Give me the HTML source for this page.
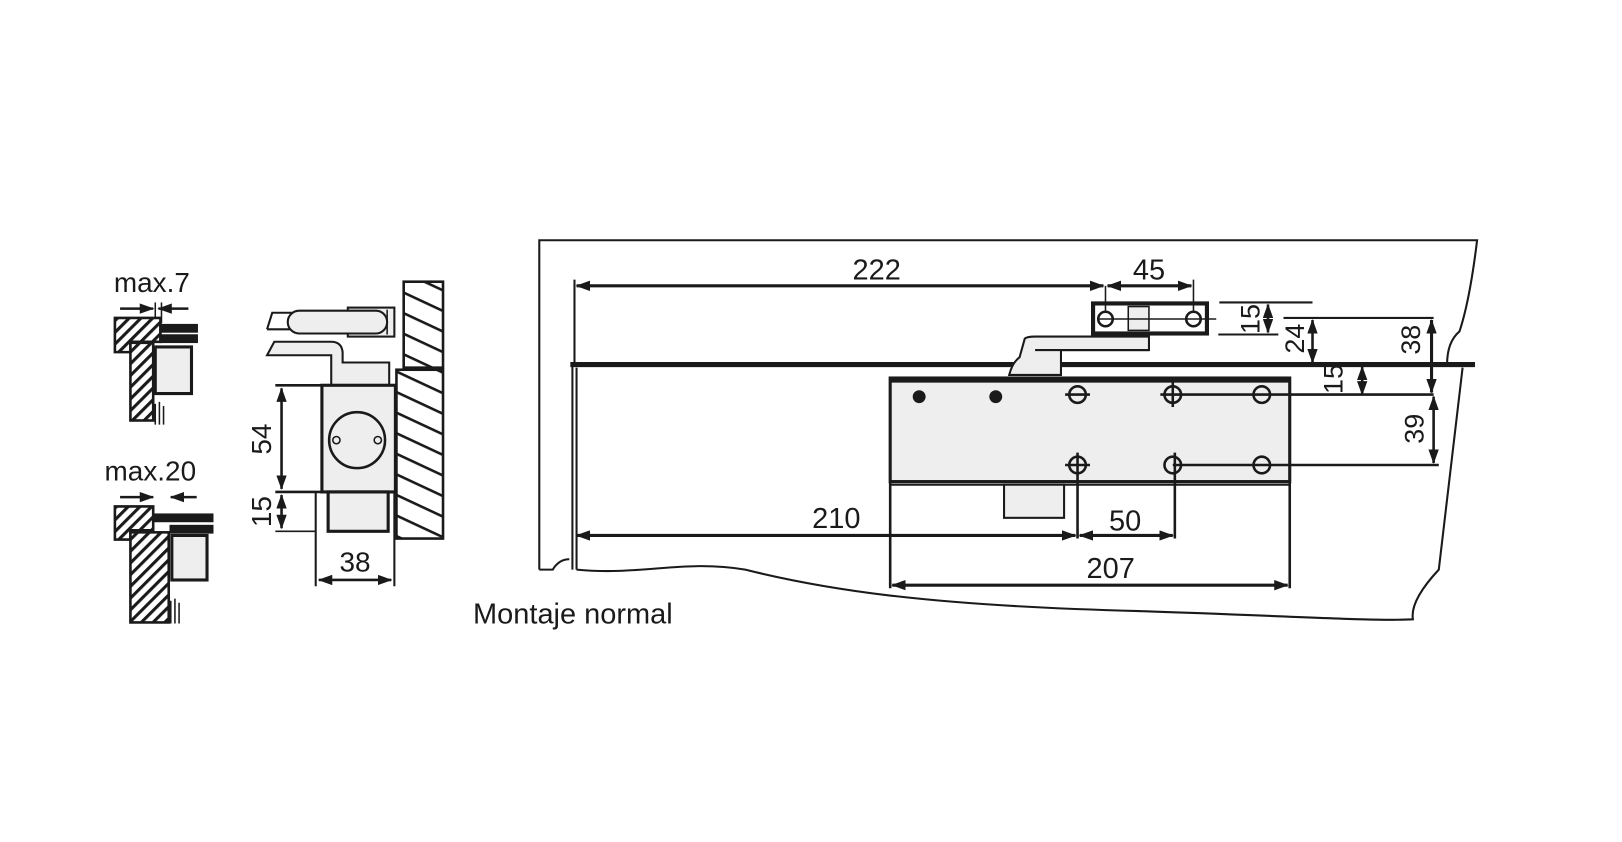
<!DOCTYPE html>
<html><head><meta charset="utf-8"><style>
html,body{margin:0;padding:0;background:#fff;}
svg{display:block;}
text{font-family:"Liberation Sans",sans-serif;fill:#1a1a1a;}
</style></head><body>
<svg width="1622" height="842" viewBox="0 0 1567 813" preserveAspectRatio="none" xmlns="http://www.w3.org/2000/svg">
<defs>
<marker id="a" markerWidth="14" markerHeight="10" refX="13" refY="5" orient="auto-start-reverse" markerUnits="userSpaceOnUse"><path d="M0,0 L14,5 L0,10 Z" fill="#1a1a1a"/></marker>
<pattern id="h" width="8" height="8" patternUnits="userSpaceOnUse" patternTransform="rotate(45)"><rect width="8" height="8" fill="#fff"/><rect width="3" height="8" fill="#1a1a1a"/></pattern>
<pattern id="w" width="18" height="18" patternUnits="userSpaceOnUse" patternTransform="rotate(25)"><rect width="18" height="18" fill="#fff"/><rect width="18" height="2.5" fill="#1a1a1a"/></pattern>
</defs>
<g stroke="#1a1a1a" fill="none" stroke-width="2.5">
<!-- small detail top -->
<text x="110" y="282" font-size="27" stroke="none">max.7</text>
<line x1="116" y1="298" x2="148" y2="298" marker-end="url(#a)"/>
<line x1="182" y1="298" x2="153" y2="298" marker-end="url(#a)"/>
<line x1="150" y1="292" x2="150" y2="312" stroke-width="1.5"/><line x1="156" y1="292" x2="156" y2="312" stroke-width="1.5"/>
<path d="M111,307 H155 V330 H126 V340 H111 Z" fill="url(#h)"/>
<rect x="126" y="331" width="22" height="75" fill="url(#h)"/>
<rect x="150" y="335" width="35" height="45" fill="#eee" stroke-width="3"/>
<rect x="155" y="314" width="35" height="6" fill="#1a1a1a"/><rect x="155" y="324" width="35" height="6" fill="#1a1a1a"/>
<path d="M150,390 V410 M154,388 V410 M158,392 V410" stroke-width="1.5"/>
<!-- small detail bottom -->
<text x="101" y="464" font-size="27" stroke="none">max.20</text>
<line x1="116" y1="480" x2="148" y2="480" marker-end="url(#a)"/>
<line x1="190" y1="480" x2="165" y2="480" marker-end="url(#a)"/>
<path d="M111,489 H148 V512 H126 V521 H111 Z" fill="url(#h)"/>
<rect x="126" y="514" width="37" height="87" fill="url(#h)"/>
<rect x="166" y="517" width="34" height="43" fill="#eee" stroke-width="3"/>
<rect x="150" y="497" width="55" height="6" fill="#1a1a1a"/><rect x="165" y="508" width="40" height="6" fill="#1a1a1a"/>
<path d="M165,580 V602 M169,578 V602 M173,582 V602" stroke-width="1.5"/>
<!-- middle detail -->
<rect x="390" y="272" width="38" height="83" fill="url(#w)"/>
<rect x="383" y="357" width="45" height="163" fill="url(#w)"/>
<path d="M258,318 L263,302 H285" stroke-width="2"/>
<path d="M258,318 H285" stroke-width="2"/>
<rect x="336" y="297" width="45" height="28" fill="#eee" stroke-width="2"/>
<line x1="374" y1="299" x2="374" y2="323" stroke-width="1.5"/>
<rect x="278" y="300" width="96" height="22" rx="11" fill="#eee" stroke-width="2"/>
<path d="M258,343 L265,330 L320,330 Q330,330 331,340 V350 H376 V372 H320 V343 Z" fill="#eee" stroke-width="2"/>
<rect x="311" y="372" width="71" height="103" fill="#eee" stroke-width="3"/>
<circle cx="345" cy="425" r="27" stroke-width="2.5"/>
<circle cx="325" cy="425" r="3.5" stroke-width="1.5"/><circle cx="365" cy="425" r="3.5" stroke-width="1.5"/>
<rect x="317" y="475" width="58" height="38" fill="#eee" stroke-width="3"/>
<line x1="266" y1="372" x2="311" y2="372"/><line x1="266" y1="475" x2="311" y2="475"/><line x1="266" y1="513" x2="305" y2="513" stroke-width="1.5"/>
<line x1="272" y1="375" x2="272" y2="472" marker-start="url(#a)" marker-end="url(#a)"/>
<line x1="272" y1="478" x2="272" y2="510" marker-start="url(#a)" marker-end="url(#a)"/>
<line x1="305" y1="475" x2="305" y2="566" stroke-width="2"/><line x1="381" y1="475" x2="381" y2="566" stroke-width="2"/>
<line x1="308" y1="560" x2="378" y2="560" marker-start="url(#a)" marker-end="url(#a)"/>
<text transform="translate(262,424) rotate(-90)" font-size="27" text-anchor="middle" stroke="none">54</text>
<text transform="translate(262,494) rotate(-90)" font-size="27" text-anchor="middle" stroke="none">15</text>
<text x="343" y="552" font-size="27" text-anchor="middle" stroke="none">38</text>
<text x="457" y="602" font-size="28" stroke="none">Montaje normal</text>
<!-- main drawing -->
<path d="M521,550 V232 H1427 Q1420,290 1410,320 Q1398,330 1398,352" stroke-width="2"/>
<path d="M521,550 H534 Q540,540 550,540" stroke-width="2"/>
<path d="M557,550 C620,556 660,540 720,550 C800,570 900,585 1100,590 C1250,595 1330,600 1365,598 Q1362,580 1390,550 L1413,355" stroke-width="2"/>
<line x1="551" y1="352" x2="1425" y2="352" stroke-width="5"/>
<line x1="553" y1="350" x2="553" y2="550" stroke-width="2"/><line x1="557" y1="355" x2="557" y2="550" stroke-width="2"/>
<rect x="860" y="365" width="386" height="100" fill="#eee" stroke-width="3"/>
<line x1="860" y1="367" x2="1246" y2="367" stroke-width="5"/>
<line x1="860" y1="468" x2="1246" y2="468" stroke-width="2"/>
<line x1="860" y1="465" x2="860" y2="568" stroke-width="2.5"/><line x1="1246" y1="465" x2="1246" y2="568" stroke-width="2.5"/>
<rect x="970" y="468" width="58" height="32" fill="#eee" stroke-width="2"/>
<path d="M975,362 Q978,350 985,345 L990,327 Q992,325 1000,325 H1110 V338 H1025 V362 Z" fill="#eee" stroke-width="2"/>
<line x1="1000" y1="338" x2="1110" y2="338" stroke-width="2"/>
<circle cx="888" cy="383" r="5" fill="#1a1a1a"/><circle cx="962" cy="383" r="5" fill="#1a1a1a"/>
<g stroke-width="2.5">
<circle cx="1041" cy="381" r="8"/><line x1="1029" y1="381" x2="1053" y2="381"/>
<circle cx="1133" cy="381" r="8"/><line x1="1121" y1="381" x2="1385" y2="381"/><line x1="1133" y1="369" x2="1133" y2="393"/>
<circle cx="1219" cy="381" r="8"/>
<circle cx="1041" cy="449" r="8"/><line x1="1029" y1="449" x2="1053" y2="449"/><line x1="1041" y1="437" x2="1041" y2="520"/>
<circle cx="1133" cy="449" r="8"/><line x1="1133" y1="449" x2="1390" y2="449"/><line x1="1135" y1="437" x2="1135" y2="520"/>
<circle cx="1219" cy="449" r="8"/>
</g>
<rect x="1056" y="293" width="110" height="29" fill="#fff" stroke-width="4"/>
<rect x="1090" y="296" width="20" height="23" fill="#eee" stroke-width="1.5"/>
<circle cx="1068" cy="308" r="7" stroke-width="2.5"/><circle cx="1153" cy="308" r="7" stroke-width="2.5"/>
<line x1="1062" y1="308" x2="1175" y2="308" stroke-width="1.5"/>
<!-- dims -->
<line x1="555" y1="270" x2="555" y2="352" stroke-width="2"/>
<line x1="557" y1="276" x2="1066" y2="276" stroke-width="3" marker-start="url(#a)" marker-end="url(#a)"/>
<line x1="1070" y1="276" x2="1151" y2="276" stroke-width="3" marker-start="url(#a)" marker-end="url(#a)"/>
<line x1="1068" y1="276" x2="1068" y2="300" stroke-width="1.5"/><line x1="1153" y1="270" x2="1153" y2="300" stroke-width="1.5"/>
<text x="847" y="270" font-size="28" text-anchor="middle" stroke="none">222</text>
<text x="1110" y="270" font-size="28" text-anchor="middle" stroke="none">45</text>
<line x1="1178" y1="292" x2="1268" y2="292" stroke-width="2"/><line x1="1177" y1="323" x2="1235" y2="323" stroke-width="2"/>
<line x1="1225" y1="294" x2="1225" y2="321" marker-start="url(#a)" marker-end="url(#a)"/>
<text transform="translate(1217,308) rotate(-90)" font-size="26" text-anchor="middle" stroke="none">15</text>
<line x1="1240" y1="307" x2="1385" y2="307" stroke-width="2"/>
<line x1="1268" y1="309" x2="1268" y2="350" marker-start="url(#a)" marker-end="url(#a)"/>
<text transform="translate(1260,327) rotate(-90)" font-size="26" text-anchor="middle" stroke="none">24</text>
<line x1="1383" y1="309" x2="1383" y2="379" stroke-width="3" marker-start="url(#a)" marker-end="url(#a)"/>
<text transform="translate(1372,328) rotate(-90)" font-size="26" text-anchor="middle" stroke="none">38</text>
<line x1="1316" y1="354" x2="1316" y2="381" marker-start="url(#a)" marker-end="url(#a)"/>
<text transform="translate(1297,366) rotate(-90)" font-size="26" text-anchor="middle" stroke="none">15</text>
<line x1="1385" y1="383" x2="1385" y2="447" marker-start="url(#a)" marker-end="url(#a)"/>
<text transform="translate(1375,414) rotate(-90)" font-size="26" text-anchor="middle" stroke="none">39</text>
<line x1="557" y1="517" x2="1039" y2="517" stroke-width="3" marker-start="url(#a)" marker-end="url(#a)"/>
<line x1="1043" y1="517" x2="1133" y2="517" stroke-width="3" marker-start="url(#a)" marker-end="url(#a)"/>
<text x="808" y="510" font-size="28" text-anchor="middle" stroke="none">210</text>
<text x="1087" y="512" font-size="28" text-anchor="middle" stroke="none">50</text>
<line x1="862" y1="565" x2="1244" y2="565" stroke-width="3" marker-start="url(#a)" marker-end="url(#a)"/>
<text x="1073" y="558" font-size="28" text-anchor="middle" stroke="none">207</text>
</g>
</svg>
</body></html>
